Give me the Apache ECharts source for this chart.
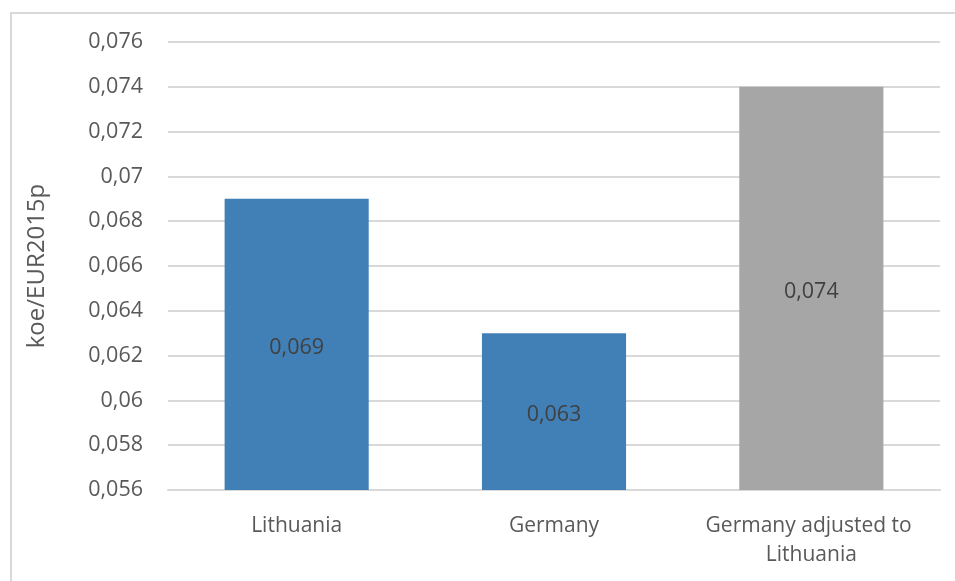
<!DOCTYPE html>
<html>
<head>
<meta charset="utf-8">
<script src="https://cdn.jsdelivr.net/npm/echarts@6/dist/echarts.min.js"></script>
<style>
html,body{margin:0;padding:0;background:#fff;}
#chart{width:955px;height:581px;}
</style>
</head>
<body>
<div id="chart"></div>
<script>
const categories = ['Lithuania', 'Germany', 'Germany adjusted to Lithuania'];
const values = [0.069, 0.063, 0.074];
const barColors = ['#4180b7', '#4180b7', '#a6a6a6'];
const yTitle = 'koe/EUR2015p';

const fmt = v => String(+(+v).toFixed(3)).replace('.', ',');
const FONT = '"Open Sans", "Noto Sans", sans-serif';

const chart = echarts.init(document.getElementById('chart'));
chart.setOption({
  animation: false,
  graphic: [{
    type: 'rect',
    shape: { x: 11, y: 13, width: 960, height: 600 },
    style: { fill: 'none', stroke: '#d9d9d9', lineWidth: 2 },
    silent: true
  }],
  grid: { left: 168, right: 15, top: 42, bottom: 91 },
  xAxis: {
    type: 'category',
    data: categories,
    axisLine: { show: true, lineStyle: { color: '#d9d9d9', width: 2 } },
    axisTick: { show: false },
    axisLabel: {
      color: '#595959', fontSize: 21, fontFamily: FONT, margin: 22,
      width: 250, overflow: 'break', lineHeight: 29, interval: 0
    }
  },
  yAxis: {
    type: 'value',
    min: 0.056, max: 0.076, interval: 0.002,
    name: yTitle,
    nameLocation: 'middle',
    nameGap: 119,
    nameTextStyle: { color: '#595959', fontSize: 24, fontFamily: FONT },
    axisLine: { show: false },
    axisTick: { show: false },
    splitLine: { lineStyle: { color: '#d9d9d9', width: 2 } },
    axisLabel: { color: '#595959', fontSize: 21.5, fontFamily: FONT, margin: 25, formatter: fmt, padding: [3, 0, 0, 0] }
  },
  series: [{
    type: 'bar',
    barWidth: '56%',
    data: values.map((v, i) => ({ value: v, itemStyle: { color: barColors[i] } })),
    label: {
      show: true, position: 'inside', color: '#404040', fontSize: 21.5, fontFamily: FONT,
      offset: [0, 3],
      formatter: p => fmt(p.value)
    }
  }]
});
</script>
</body>
</html>
